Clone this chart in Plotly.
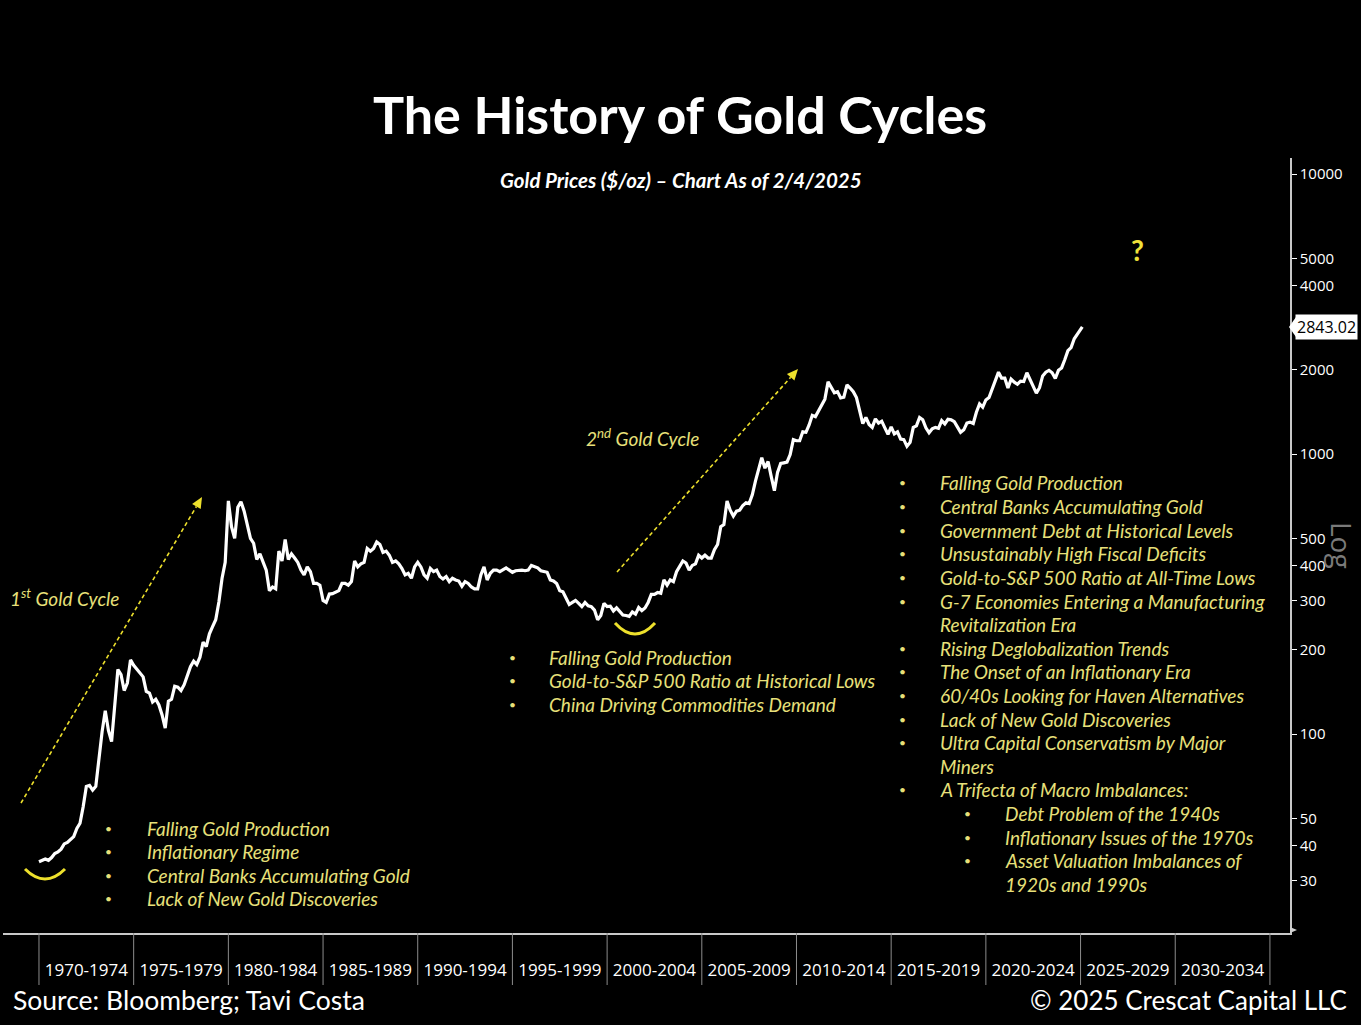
import numpy as np
import plotly.graph_objects as go

# ---------------- DATA ----------------
# Gold price ($/oz), sampled every two months (Jan, Mar, May, Jul, Sep, Nov)
gold_1970s = [35.0, 35.3, 35.8, 35.4, 36.2, 37.4,
              37.9, 38.8, 40.5, 41.0, 42.0, 43.0,
              46.0, 48.0, 55.0, 65.0, 65.5, 63.0,
              65.0, 84.0, 102.0, 121.0, 103.0, 94.0,
              129.0, 170.0, 163.0, 143.0, 152.0, 184.0,
              176.0, 170.0, 166.0, 160.0, 142.0, 140.0,
              130.0, 133.0, 127.0, 117.0, 105.0, 131.0,
              133.0, 148.0, 147.0, 143.0, 150.0, 161.0,
              174.0, 182.0, 177.0, 188.0, 213.0, 205.0,
              228.0, 242.0, 256.0, 296.0, 360.0, 410.0]
gold_1980s = [680.0, 550.0, 500.0, 645.0, 675.0, 625.0,
              560.0, 500.0, 480.0, 420.0, 440.0, 410.0,
              385.0, 325.0, 335.0, 330.0, 450.0, 415.0,
              495.0, 420.0, 440.0, 425.0, 410.0, 385.0,
              370.0, 395.0, 380.0, 345.0, 345.0, 340.0,
              300.0, 295.0, 316.0, 317.0, 322.0, 325.0,
              345.0, 345.0, 340.0, 350.0, 415.0, 395.0,
              405.0, 410.0, 460.0, 450.0, 460.0, 485.0,
              475.0, 445.0, 450.0, 435.0, 410.0, 415.0,
              405.0, 390.0, 370.0, 375.0, 360.0, 395.0]
gold_1990s = [410.0, 395.0, 370.0, 360.0, 390.0, 380.0,
              385.0, 365.0, 358.0, 365.0, 350.0, 360.0,
              355.0, 352.0, 337.0, 350.0, 345.0, 335.0,
              330.0, 330.0, 370.0, 395.0, 355.0, 375.0,
              385.0, 385.0, 380.0, 385.0, 392.0, 385.0,
              378.0, 383.0, 385.0, 385.0, 383.0, 385.0,
              400.0, 396.0, 392.0, 383.0, 380.0, 378.0,
              355.0, 352.0, 345.0, 325.0, 322.0, 305.0,
              290.0, 295.0, 300.0, 293.0, 285.0, 295.0,
              287.0, 285.0, 277.0, 256.0, 265.0, 293.0]
gold_2000s = [285.0, 286.0, 275.0, 282.0, 273.0, 266.0,
              265.0, 263.0, 273.0, 268.0, 283.0, 276.0,
              282.0, 295.0, 315.0, 315.0, 320.0, 318.0,
              355.0, 340.0, 355.0, 350.0, 380.0, 395.0,
              415.0, 408.0, 385.0, 400.0, 405.0, 435.0,
              425.0, 435.0, 425.0, 425.0, 455.0, 475.0,
              550.0, 560.0, 680.0, 630.0, 600.0, 625.0,
              630.0, 655.0, 670.0, 665.0, 715.0, 800.0,
              890.0, 970.0, 890.0, 940.0, 830.0, 740.0,
              860.0, 925.0, 930.0, 935.0, 995.0, 1125.0]
gold_2010s = [1115.0, 1115.0, 1200.0, 1195.0, 1270.0, 1375.0,
              1360.0, 1425.0, 1510.0, 1570.0, 1810.0, 1740.0,
              1655.0, 1670.0, 1585.0, 1595.0, 1765.0, 1720.0,
              1670.0, 1590.0, 1410.0, 1285.0, 1350.0, 1275.0,
              1245.0, 1335.0, 1290.0, 1310.0, 1240.0, 1175.0,
              1250.0, 1180.0, 1200.0, 1130.0, 1125.0, 1065.0,
              1100.0, 1245.0, 1260.0, 1350.0, 1325.0, 1240.0,
              1190.0, 1230.0, 1245.0, 1235.0, 1315.0, 1280.0,
              1330.0, 1325.0, 1305.0, 1240.0, 1195.0, 1220.0,
              1290.0, 1300.0, 1285.0, 1410.0, 1510.0, 1470.0]
gold_2020s = [1560.0, 1590.0, 1715.0, 1840.0, 1960.0, 1865.0,
              1865.0, 1720.0, 1850.0, 1805.0, 1775.0, 1820.0,
              1815.0, 1950.0, 1850.0, 1735.0, 1650.0, 1725.0,
              1900.0, 1960.0, 1990.0, 1950.0, 1860.0, 1990.0,
              2030.0, 2170.0, 2340.0, 2400.0, 2580.0, 2680.0,
              2780.0]
series_start_year = 1970.0
samples_per_year = 6
last_date = 2025.093          # 2/4/2025
last_price = 2843.02

periods = ["1970-1974", "1975-1979", "1980-1984", "1985-1989", "1990-1994",
           "1995-1999", "2000-2004", "2005-2009", "2010-2014", "2015-2019",
           "2020-2024", "2025-2029", "2030-2034"]
period_starts = [1970, 1975, 1980, 1985, 1990, 1995, 2000, 2005, 2010, 2015,
                 2020, 2025, 2030]
ytick_vals = [30, 40, 50, 100, 200, 300, 400, 500, 1000, 2000, 4000, 5000, 10000]

cycle1_points = ["Falling Gold Production", "Inflationary Regime",
                 "Central Banks Accumulating Gold", "Lack of New Gold Discoveries"]
cycle2_points = ["Falling Gold Production", "Gold-to-S&P 500 Ratio at Historical Lows",
                 "China Driving Commodities Demand"]
cycle3_points = [("•", "Falling Gold Production"),
                 ("•", "Central Banks Accumulating Gold"),
                 ("•", "Government Debt at Historical Levels"),
                 ("•", "Unsustainably High Fiscal Deficits"),
                 ("•", "Gold-to-S&P 500 Ratio at All-Time Lows"),
                 ("•", "G-7 Economies Entering a Manufacturing"),
                 ("", "Revitalization Era"),
                 ("•", "Rising Deglobalization Trends"),
                 ("•", "The Onset of an Inflationary Era"),
                 ("•", "60/40s Looking for Haven Alternatives"),
                 ("•", "Lack of New Gold Discoveries"),
                 ("•", "Ultra Capital Conservatism by Major"),
                 ("", "Miners"),
                 ("•", "A Trifecta of Macro Imbalances:")]
cycle3_sub = [("•", "Debt Problem of the 1940s"),
              ("•", "Inflationary Issues of the 1970s"),
              ("•", "Asset Valuation Imbalances of"),
              ("", "1920s and 1990s")]

# ---------------- BUILD ----------------
prices = gold_1970s + gold_1980s + gold_1990s + gold_2000s + gold_2010s + gold_2020s
years = [series_start_year + i / samples_per_year for i in range(len(prices))]
years.append(last_date)
prices.append(last_price)

W, H = 1361, 1025
PX0, PX1, PY_BOT, PY_TOP = 3, 1290, 933, 158


def px(x):
    return (x - PX0) / (PX1 - PX0)


def py(y):
    return (PY_BOT - y) / (PY_BOT - PY_TOP)


YEL_TXT = "#E8E07A"
YEL = "#EDE02C"
TXT_FONT = "Lato"
BODY_SIZE = 19

fig = go.Figure()
fig.add_trace(go.Scatter(x=years, y=prices, mode="lines",
                         line=dict(color="white", width=3.2), hoverinfo="skip",
                         showlegend=False))

annotations = []
shapes = []

# Title & subtitle
annotations.append(dict(text="<b>The History of Gold Cycles</b>", x=px(680), y=py(114),
                        xref="paper", yref="paper", showarrow=False,
                        font=dict(family=TXT_FONT, size=52, color="white"),
                        xanchor="center", yanchor="middle"))
annotations.append(dict(text="<b><i>Gold Prices ($/oz) – Chart As of 2/4/2025</i></b>",
                        x=px(681), y=py(180), xref="paper", yref="paper", showarrow=False,
                        font=dict(family=TXT_FONT, size=20.5, color="white"),
                        xanchor="center", yanchor="middle"))
# Footer
annotations.append(dict(text="Source: Bloomberg; Tavi Costa", x=px(11), y=py(1000),
                        xref="paper", yref="paper", showarrow=False,
                        font=dict(family=TXT_FONT, size=26.5, color="white"),
                        xanchor="left", yanchor="middle"))
annotations.append(dict(text="© 2025 Crescat Capital LLC", x=px(1349), y=py(1000),
                        xref="paper", yref="paper", showarrow=False,
                        font=dict(family=TXT_FONT, size=26, color="white"),
                        xanchor="right", yanchor="middle"))

# Log label
annotations.append(dict(text="Log", x=px(1342), y=py(545), xref="paper", yref="paper",
                        showarrow=False, textangle=90,
                        font=dict(family="Open Sans", size=28, color="#7a7a7a"),
                        xanchor="center", yanchor="middle"))

# Last value tag
annotations.append(dict(text="2843.02", x=px(1295), y=py(327), xref="paper", yref="paper",
                        showarrow=False, bgcolor="white", borderpad=1,
                        font=dict(family="Open Sans", size=16, color="black"),
                        xanchor="left", yanchor="middle"))
shapes.append(dict(type="path", xref="paper", yref="paper",
                   path=f"M {px(1289)},{py(327)} L {px(1296)},{py(317)} L {px(1296)},{py(337)} Z",
                   fillcolor="white", line=dict(width=0)))

# Question mark
annotations.append(dict(text="<b>?</b>", x=px(1137), y=py(250), xref="paper", yref="paper",
                        showarrow=False, font=dict(family=TXT_FONT, size=28, color="#F0E23A"),
                        xanchor="center", yanchor="middle"))

# Cycle labels
annotations.append(dict(text="<i>1<sup>st</sup> Gold Cycle</i>", x=px(8), y=py(597),
                        xref="paper", yref="paper", showarrow=False,
                        font=dict(family=TXT_FONT, size=BODY_SIZE, color=YEL_TXT),
                        xanchor="left", yanchor="middle"))
annotations.append(dict(text="<i>2<sup>nd</sup> Gold Cycle</i>", x=px(584), y=py(437),
                        xref="paper", yref="paper", showarrow=False,
                        font=dict(family=TXT_FONT, size=BODY_SIZE, color=YEL_TXT),
                        xanchor="left", yanchor="middle"))

# Dashed arrows with triangular heads
for (x0, y0, x1, y1) in [(21, 803, 202, 497), (617, 572, 798, 369)]:
    dx, dy = x0 - x1, y0 - y1
    n = (dx * dx + dy * dy) ** 0.5
    ux, uy = dx / n, dy / n           # unit vector pointing back from tip
    hl, hw = 11, 5                    # head length / half width (px)
    bx, by = x1 + ux * hl, y1 + uy * hl
    shapes.append(dict(type="line", xref="paper", yref="paper",
                       x0=px(x0), y0=py(y0), x1=px(bx), y1=py(by),
                       line=dict(color=YEL, width=1.6, dash="4px,3px")))
    lx, ly = bx - uy * hw, by + ux * hw
    rx, ry = bx + uy * hw, by - ux * hw
    shapes.append(dict(type="path", xref="paper", yref="paper",
                       path=f"M {px(x1)},{py(y1)} L {px(lx)},{py(ly)} L {px(rx)},{py(ry)} Z",
                       fillcolor=YEL, line=dict(width=0)))

# Smile arcs under the lows
for (xa, xb, ytop, ybot) in [(25, 65, 869, 879), (615, 655, 623, 634)]:
    cx = (xa + xb) / 2
    cy = 2 * ybot - ytop
    shapes.append(dict(type="path", xref="paper", yref="paper",
                       path=f"M {px(xa)},{py(ytop)} Q {px(cx)},{py(cy)} {px(xb)},{py(ytop)}",
                       line=dict(color=YEL, width=3)))

LINE_H = 23.6


def add_bullets(items, bx, tx, y0):
    for i, (b, t) in enumerate(items):
        yy = y0 + i * LINE_H
        if b:
            annotations.append(dict(text=b, x=px(bx), y=py(yy), xref="paper", yref="paper",
                                    showarrow=False,
                                    font=dict(family=TXT_FONT, size=12, color=YEL_TXT),
                                    xanchor="center", yanchor="middle"))
        annotations.append(dict(text=f"<i>{t}</i>", x=px(tx), y=py(yy), xref="paper",
                                yref="paper", showarrow=False,
                                font=dict(family=TXT_FONT, size=BODY_SIZE, color=YEL_TXT),
                                xanchor="left", yanchor="middle"))


add_bullets([("•", t) for t in cycle1_points], 108, 145, 828)
add_bullets([("•", t) for t in cycle2_points], 512, 547, 657)
add_bullets(cycle3_points, 902, 938, 483)
add_bullets(cycle3_sub, 967, 1003, 483 + len(cycle3_points) * LINE_H)

# Period separators below the axis
for s in period_starts + [period_starts[-1] + 5]:
    shapes.append(dict(type="line", xref="x", yref="paper", x0=s, x1=s,
                       y0=0, y1=-(985 - PY_BOT) / (PY_BOT - PY_TOP),
                       line=dict(color="#8c8c8c", width=1)))

# small arrow tip at end of x axis
shapes.append(dict(type="path", xref="paper", yref="paper",
                   path=f"M {px(1290)},{py(927)} L {px(1297)},{py(930)} L {px(1290)},{py(933)} Z",
                   fillcolor="#d0d0d0", line=dict(width=0)))

x_range = [1968.10, 2036.06]
y_range = [2 - (PY_BOT - 734) / 280, 4 + (174 - PY_TOP) / 280]

fig.update_layout(
    width=W, height=H,
    margin=dict(l=PX0, r=W - PX1, t=PY_TOP, b=H - PY_BOT),
    paper_bgcolor="black", plot_bgcolor="black",
    showlegend=False,
    annotations=annotations, shapes=shapes,
    xaxis=dict(range=x_range, showgrid=False, zeroline=False, showline=True,
               linecolor="#c8c8c8", linewidth=1.5,
               tickvals=[s + 2.5 for s in period_starts], ticktext=periods,
               ticks="", ticklabelstandoff=21,
               tickfont=dict(family="Open Sans", size=17, color="white")),
    yaxis=dict(type="log", range=y_range, side="right", showgrid=False, zeroline=False,
               showline=True, linecolor="#c8c8c8", linewidth=1.5,
               tickvals=ytick_vals, ticktext=[str(v) for v in ytick_vals],
               ticks="outside", ticklen=5, tickcolor="white", tickwidth=1,
               tickfont=dict(family="Open Sans", size=15, color="white")),
)

fig.write_html("out.html", config={"displayModeBar": False},
               post_script="document.body.style.margin='0px';")
